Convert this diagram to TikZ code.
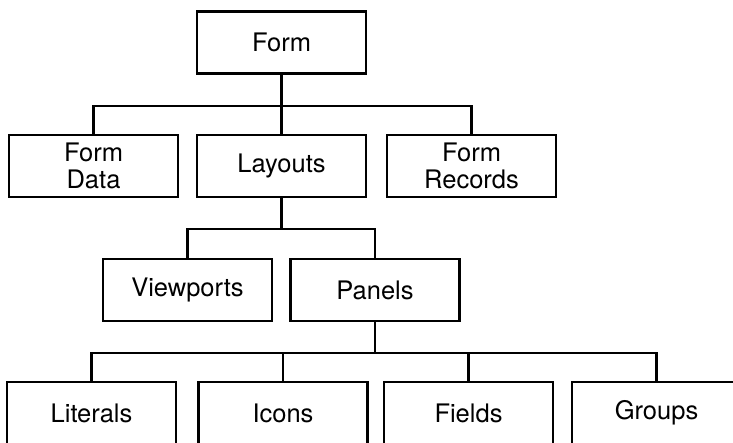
\documentclass[tikz,border=0pt]{standalone}
\usepackage{fontspec}
\setmainfont{TeX Gyre Heros}
\begin{document}
\begin{tikzpicture}[x=1pt,y=-1pt,
  box/.style={draw, line width=2.2pt, minimum width=169pt, minimum height=62pt,
    inner sep=0pt, outer sep=0pt, align=center,
    font=\fontsize{25.5}{26.5}\selectfont},
  conn/.style={line width=2.2pt}]
\useasboundingbox (0,0) rectangle (733,443);
\node[box] (form)   at (281.5,42.5) {Form};
\node[box] (fdata)  at (93.5,166)   {Form\\Data};
\node[box] (layouts) at (281.5,166) {Layouts};
\node[box] (frec)   at (471.5,166)  {Form\\Records};
\node[box] (vp)     at (187.5,290)  {Viewports};
\node[box] (panels) at (375,290)    {Panels};
\node[box] (lit)    at (91.5,413)   {Literals};
\node[box] (icons)  at (283,413)    {Icons};
\node[box] (fields) at (468.5,413)  {Fields};
\node[box] (groups) at (656.5,413)  {Groups};
\coordinate (bus1) at (0,106);
\coordinate (bus2) at (0,229);
\coordinate (bus3) at (0,353);
\draw[conn] (form.south) -- (layouts.north);
\draw[conn] (fdata.north) -- (fdata.north |- bus1) -- (frec.north |- bus1) -- (frec.north);
\draw[conn] (layouts.south) -- (layouts.south |- bus2);
\draw[conn] (vp.north) -- (vp.north |- bus2) -- (panels.north |- bus2) -- (panels.north);
\draw[conn] (panels.south) -- (panels.south |- bus3);
\draw[conn] (lit.north) -- (lit.north |- bus3) -- (groups.north |- bus3) -- (groups.north);
\draw[conn] (icons.north) -- (icons.north |- bus3);
\draw[conn] (fields.north) -- (fields.north |- bus3);
\end{tikzpicture}
\end{document}
